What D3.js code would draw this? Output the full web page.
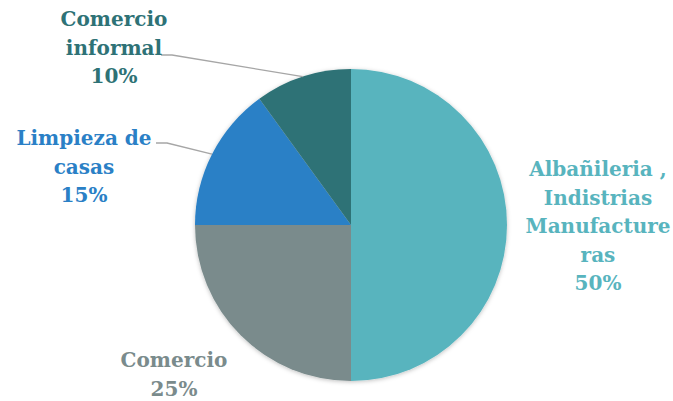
<!DOCTYPE html>
<html>
<head>
<meta charset="utf-8">
<script src="https://cdn.jsdelivr.net/npm/d3@7"></script>
<style>
  body { margin: 0; background: #fff; }
  text { font-family: "DejaVu Serif", serif; font-weight: bold; font-size: 20px; }
</style>
</head>
<body>
<svg id="chart" width="673" height="401"></svg>
<script>
// data
const categories = ["Albañileria , Indistrias Manufacture ras", "Comercio", "Limpieza de casas", "Comercio informal"];
const labelLines = [["Albañileria ,", "Indistrias", "Manufacture", "ras"], ["Comercio"], ["Limpieza de", "casas"], ["Comercio", "informal"]];
const values = [50, 25, 15, 10];
const colors = ["#58b4be", "#7a8b8c", "#2a80c6", "#2e7276"];

const width = 673, height = 401;
const cx = 351, cy = 225, radius = 156;

// label block positions (center x, first baseline y) and whether it gets a leader
const labelPos = [
    {x: 598, y: 176, leader: false},
    {x: 174, y: 367, leader: false},
    {x: 84, y: 145, leader: true, lx: 156, ly: 143},
    {x: 114, y: 26, leader: true, lx: 161, ly: 55}
];
const lineHeight = 28.6;

const svg = d3.select("#chart");

const defs = svg.append("defs");
const shadow = defs.append("filter").attr("id", "shadow")
    .attr("x", "-10%").attr("y", "-10%").attr("width", "120%").attr("height", "120%");
shadow.append("feDropShadow").attr("dx", 0).attr("dy", 1).attr("stdDeviation", 2)
    .attr("flood-color", "#000").attr("flood-opacity", 0.25);

const pie = d3.pie().sort(null).value(d => d);
const arcs = pie(values);
const arc = d3.arc().innerRadius(0).outerRadius(radius);

const g = svg.append("g").attr("transform", `translate(${cx},${cy})`);

g.append("g").attr("filter", "url(#shadow)")
    .selectAll("path")
    .data(arcs)
    .join("path")
    .attr("d", arc)
    .attr("fill", (d, i) => colors[i]);

// leader lines go to the midpoint of the slice's outer edge
arcs.forEach((d, i) => {
    const p = labelPos[i];
    if (!p.leader) return;
    const a = (d.startAngle + d.endAngle) / 2;
    const ex = cx + Math.sin(a) * radius;
    const ey = cy - Math.cos(a) * radius;
    svg.append("path")
        .attr("d", `M${p.lx},${p.ly} L${p.lx + 11},${p.ly} L${ex},${ey}`)
        .attr("fill", "none")
        .attr("stroke", "#a6a6a6")
        .attr("stroke-width", 1.3);
});

// labels
arcs.forEach((d, i) => {
    const p = labelPos[i];
    const pct = Math.round(d.value / d3.sum(values) * 100) + "%";
    const lines = labelLines[i].concat([pct]);
    const t = svg.append("text")
        .attr("text-anchor", "middle")
        .attr("fill", colors[i]);
    lines.forEach((s, k) => {
        t.append("tspan").attr("x", p.x).attr("y", p.y + k * lineHeight).text(s);
    });
});
</script>
</body>
</html>
